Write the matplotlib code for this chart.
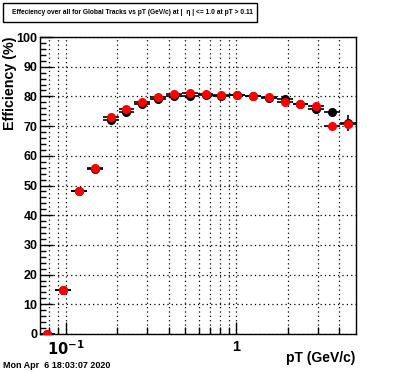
import numpy as np
import matplotlib
matplotlib.use('Agg')
import matplotlib.pyplot as plt
from matplotlib.patches import Rectangle

plt.rcParams['font.family'] = ['Liberation Sans', 'DejaVu Sans']
plt.rcParams['font.weight'] = 'bold'

# bin edges (pT, GeV/c) and efficiencies
pt_edges = [0.070, 0.0867, 0.1073, 0.1329, 0.1645, 0.2037, 0.2523, 0.3124, 0.3868,
            0.4789, 0.5930, 0.7342, 0.9091, 1.1257, 1.3938, 1.7258, 2.1369,
            2.6459, 3.2762, 4.0566, 5.0]
eff_black = [0.0, 14.7, 48.1, 55.7, 72.1, 74.9, 77.5, 79.2, 80.2, 80.3,
             80.6, 80.3, 80.4, 80.0, 79.6, 79.1, 77.3, 75.7, 74.6, 71.0]
err_black = [0.3, 0.6, 0.5, 0.5, 0.4, 0.4, 0.4, 0.4, 0.4, 0.4,
             0.4, 0.4, 0.4, 0.5, 0.5, 0.6, 0.7, 0.9, 1.3, 2.6]
eff_red = [0.0, 14.7, 48.3, 55.8, 73.0, 75.9, 78.2, 79.8, 80.7, 81.1,
           80.8, 80.5, 80.6, 80.1, 79.9, 78.1, 77.5, 76.9, 70.0, 70.7]
err_red = [0.3, 0.6, 0.5, 0.5, 0.4, 0.4, 0.4, 0.4, 0.4, 0.4,
           0.4, 0.4, 0.4, 0.5, 0.5, 0.6, 0.7, 0.9, 1.0, 1.6]

edges = np.array(pt_edges)
pt = np.sqrt(edges[:-1] * edges[1:])
xerr = [pt - edges[:-1], edges[1:] - pt]

fig = plt.figure(figsize=(3.96, 3.72), dpi=100)
ax = fig.add_axes([39.5/396, 38/372, 316/396, 297/372])

ax.errorbar(pt, eff_black, xerr=xerr, yerr=err_black, fmt='o', color='black',
            ms=5.5, mec='black', ecolor='black', elinewidth=1.2, capsize=0, zorder=3)
ax.errorbar(pt, eff_red, xerr=xerr, yerr=err_red, fmt='o', color='red',
            ms=5.5, mec='red', ecolor='black', elinewidth=1.2, capsize=0, zorder=4)

ax.set_xscale('log')
ax.set_xlim(0.07, 5.0)
ax.set_ylim(0, 100)
ax.set_yticks(np.arange(0, 101, 10))
ax.set_yticks(np.arange(0, 101, 2), minor=True)
ax.set_xticks([0.1, 1])
ax.set_xticklabels([r'$\mathbf{10^{-1}}$', '1'])
ax.set_xticks([0.08, 0.09, 0.2, 0.3, 0.4, 0.5, 0.6, 0.7, 0.8, 0.9, 2, 3, 4], minor=True)
ax.xaxis.set_minor_formatter(plt.NullFormatter())

ax.tick_params(axis='both', which='both', direction='in', top=False, right=False)
ax.tick_params(axis='y', which='major', length=9, width=1, labelsize=9, pad=1.5)
ax.tick_params(axis='y', which='minor', length=4.5, width=1)
ax.tick_params(axis='x', which='major', length=9, width=1, labelsize=10.5, pad=4)
ax.tick_params(axis='x', which='minor', length=5, width=1)
for lbl in ax.get_yticklabels() + ax.get_xticklabels():
    lbl.set_fontweight('bold')

ax.grid(True, which='major', axis='y', linestyle=(0, (1, 2.5)), color='black', linewidth=0.9)
ax.grid(True, which='both', axis='x', linestyle=(0, (1, 2.5)), color='black', linewidth=0.9)
for s in ax.spines.values():
    s.set_linewidth(1)

fig.text(10.5/396, 1 - 37/372, 'Efficiency (%)', rotation=90, ha='center', va='top',
         fontsize=10.3, fontweight='bold')
fig.text(355/396, 1 - 358/372, 'pT (GeV/c)', ha='right', va='center',
         fontsize=10, fontweight='bold')
fig.text(3/396, 1 - 366/372, 'Mon Apr  6 18:03:07 2020', ha='left', va='center',
         fontsize=6.5, fontweight='bold')

fig.patches.append(Rectangle((3/396, 1 - 22/372), 254/396, 19/372, transform=fig.transFigure,
                             facecolor='white', edgecolor='black', linewidth=1))
fig.text(132/396, 1 - 12.5/372, 'Effeciency over all for Global Tracks vs pT (GeV/c) at |  \u03b7 | <= 1.0 at pT > 0.11',
         ha='center', va='center', fontsize=4.8, fontweight='bold')

fig.savefig('out.png', dpi=100)
